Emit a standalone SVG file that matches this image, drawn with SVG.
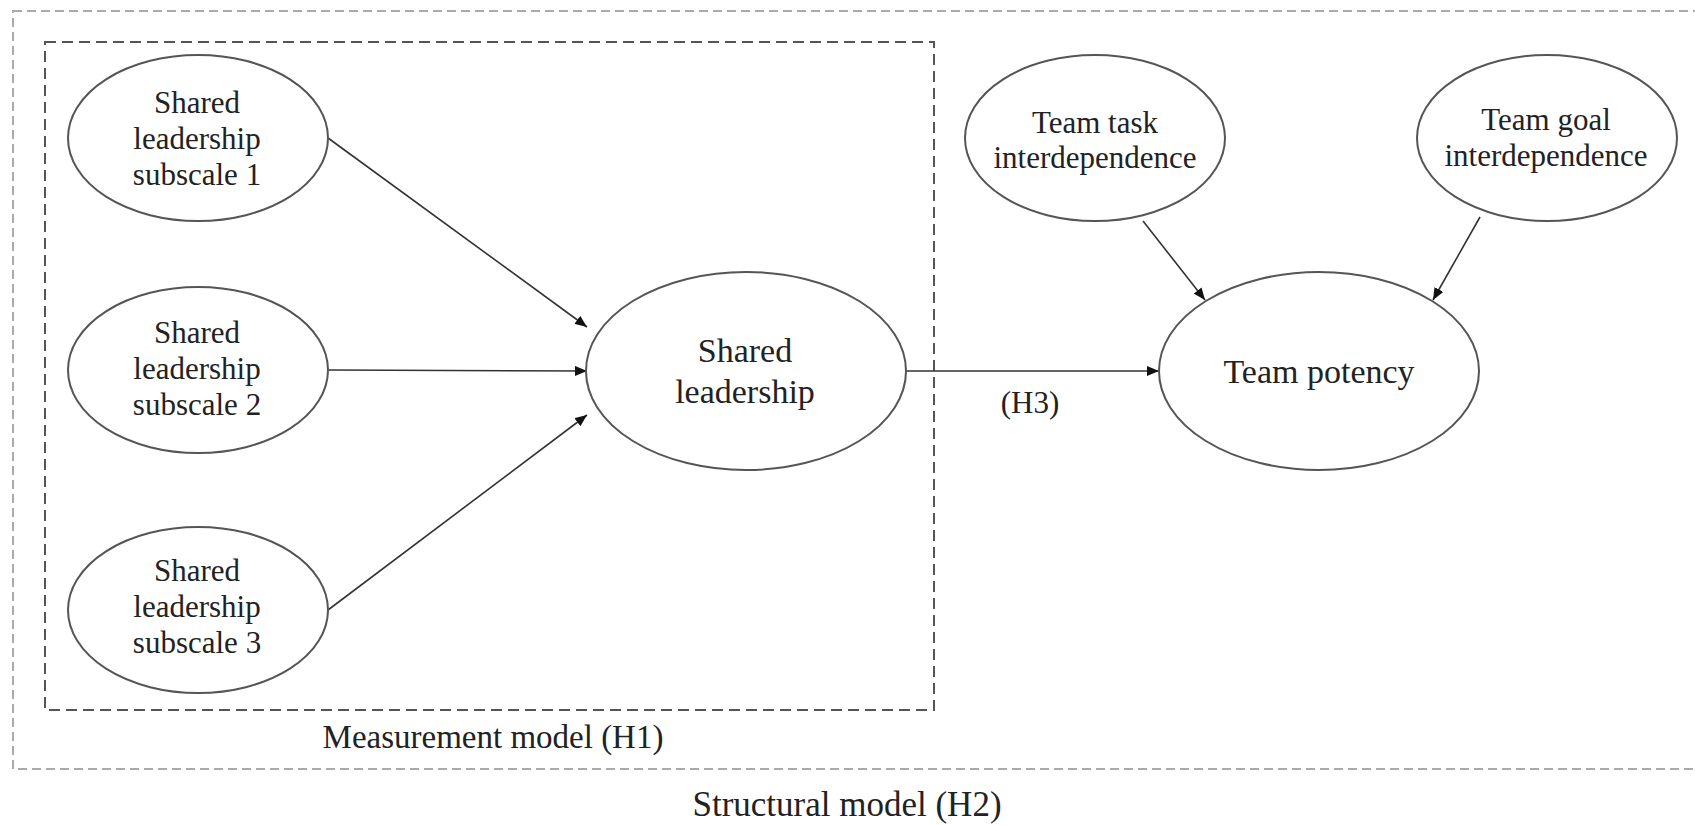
<svg xmlns="http://www.w3.org/2000/svg" width="1695" height="825" viewBox="0 0 1695 825">
  <defs>
    <marker id="arrow" viewBox="0 0 12 10" refX="12" refY="5" markerWidth="12" markerHeight="10" markerUnits="userSpaceOnUse" orient="auto">
      <path d="M0,0 L12,5 L0,10 Z" fill="#111"/>
    </marker>
    <style>
      .node ellipse { fill: #fff; stroke: #555; stroke-width: 2; }
      .lbl { font-family: "Liberation Serif", "Times New Roman", serif; fill: #222; text-anchor: middle; }
      .sm { font-size: 31px; }
      .lg { font-size: 34px; }
      .cap { font-size: 33px; }
      .cap2 { font-size: 35px; }
      .edge { stroke: #333; stroke-width: 1.6; fill: none; marker-end: url(#arrow); }
      .outer { fill: none; stroke: #aaa; stroke-width: 2; stroke-dasharray: 9 5; }
      .inner { fill: none; stroke: #555; stroke-width: 2; stroke-dasharray: 11 6; }
    </style>
  </defs>
  <rect width="1695" height="825" fill="#fff"/>

  <!-- model boundaries -->
  <g id="structural-model">
    <rect class="outer" x="13" y="11" width="1700" height="758"/>
    <text class="lbl cap2" x="847" y="816">Structural model (H2)</text>
  </g>
  <g id="measurement-model">
    <rect class="inner" x="45" y="42" width="889" height="668"/>
    <text class="lbl cap" x="493" y="748">Measurement model (H1)</text>
  </g>

  <!-- paths -->
  <g id="connectors">
    <line class="edge" x1="328" y1="138" x2="587" y2="327"/>
    <line class="edge" x1="328" y1="370" x2="587" y2="371"/>
    <line class="edge" x1="328" y1="610" x2="587" y2="415"/>
    <line class="edge" x1="906" y1="371" x2="1159" y2="371"/>
    <line class="edge" x1="1143" y1="221" x2="1205" y2="300"/>
    <line class="edge" x1="1480" y1="217" x2="1433" y2="300"/>
    <text class="lbl sm" x="1030" y="413">(H3)</text>
  </g>

  <g id="sl-subscale-1" class="node">
    <ellipse cx="198" cy="138" rx="130" ry="83"/>
    <text class="lbl sm" x="197" y="113">Shared</text>
    <text class="lbl sm" x="197" y="149">leadership</text>
    <text class="lbl sm" x="197" y="185">subscale 1</text>
  </g>
  <g id="sl-subscale-2" class="node">
    <ellipse cx="198" cy="370" rx="130" ry="83"/>
    <text class="lbl sm" x="197" y="343">Shared</text>
    <text class="lbl sm" x="197" y="379">leadership</text>
    <text class="lbl sm" x="197" y="415">subscale 2</text>
  </g>
  <g id="sl-subscale-3" class="node">
    <ellipse cx="198" cy="610" rx="130" ry="83"/>
    <text class="lbl sm" x="197" y="581">Shared</text>
    <text class="lbl sm" x="197" y="617">leadership</text>
    <text class="lbl sm" x="197" y="653">subscale 3</text>
  </g>
  <g id="shared-leadership" class="node">
    <ellipse cx="746" cy="371" rx="160" ry="99"/>
    <text class="lbl lg" x="745" y="362">Shared</text>
    <text class="lbl lg" x="745" y="403">leadership</text>
  </g>
  <g id="team-task" class="node">
    <ellipse cx="1095" cy="138" rx="130" ry="83"/>
    <text class="lbl sm" x="1095" y="133">Team task</text>
    <text class="lbl sm" x="1095" y="168">interdependence</text>
  </g>
  <g id="team-goal" class="node">
    <ellipse cx="1547" cy="138" rx="130" ry="83"/>
    <text class="lbl sm" x="1546" y="130">Team goal</text>
    <text class="lbl sm" x="1546" y="166">interdependence</text>
  </g>
  <g id="team-potency" class="node">
    <ellipse cx="1319" cy="371" rx="160" ry="99"/>
    <text class="lbl lg" x="1319" y="383">Team potency</text>
  </g>
</svg>
